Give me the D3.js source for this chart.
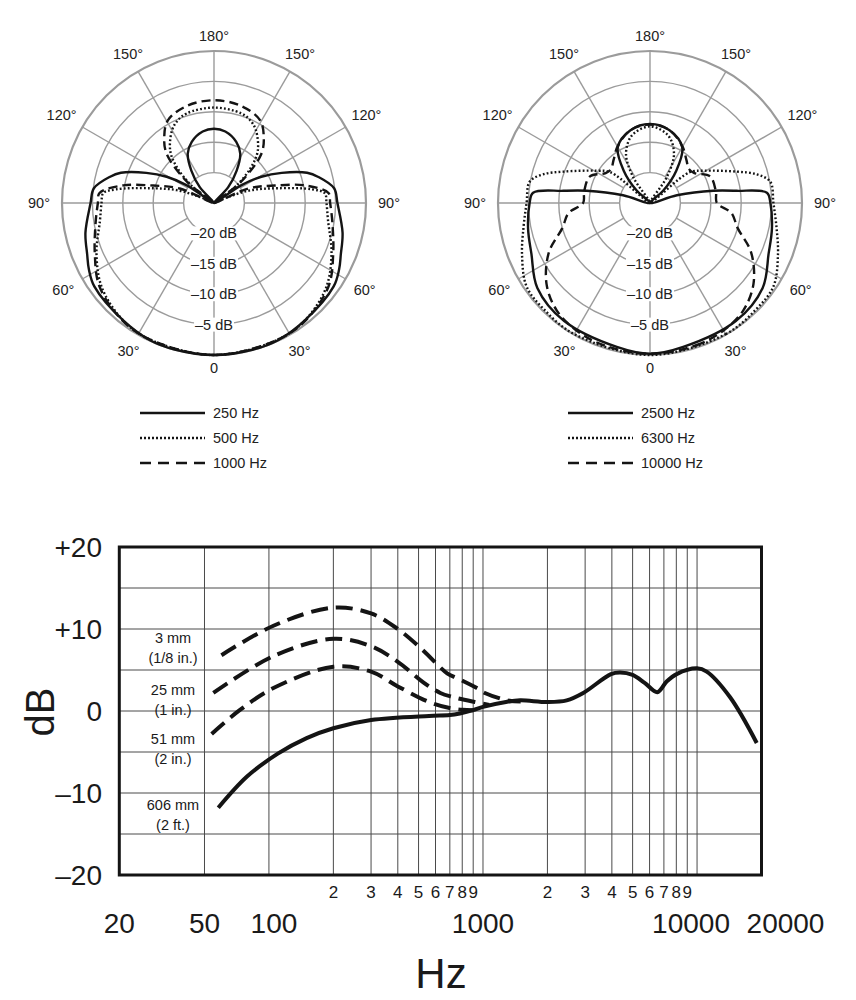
<!DOCTYPE html>
<html><head><meta charset="utf-8">
<script src="https://cdn.jsdelivr.net/npm/d3@7/dist/d3.min.js"></script>
<style>
body{margin:0;background:#fff}
text{font-family:"Liberation Sans",Arial,Helvetica,sans-serif}
</style>
</head><body>
<svg id="c" width="856" height="1000"></svg>
<script>
// ---------------- DATA ----------------
// Polar grid
const ringLevels = [-20, -15, -10, -5, 0];
const ringLabelLevels = [-20, -15, -10, -5];
const ringLabelText = ["–20 dB", "–15 dB", "–10 dB", "–5 dB"];
const spokeAngles = [0, 30, 60, 90, 120, 150, 180, 210, 240, 270, 300, 330];
const angleLabelDeg = [0, 30, 60, 90, 120, 150, 180];
const angleLabelText = ["0", "30°", "60°", "90°", "120°", "150°", "180°"];

// Left polar (angle from front, degrees; level in dB), symmetric
const ang250 = [0, 15, 25, 38, 55, 62, 68, 77, 90, 97, 104, 108, 114, 119, 123, 129, 138, 145, 152, 160, 171, 180];
const db250  = [0, -0.05, -0.1, -0.6, -1.0, -1.7, -2.5, -3.3, -4.7, -5.1, -7.3, -8.9, -12.8, -16.1, -19.6, -25, -21.5, -18.5, -15.8, -14.3, -13.1, -12.8];
const ang500 = [0, 25, 38, 53, 67, 81, 90, 95, 98, 103, 109, 113, 118, 127, 134, 140, 150, 156, 163, 180];
const db500  = [0, -0.2, -0.6, -1.9, -4.0, -6.0, -6.5, -6.7, -8.8, -14.2, -18.5, -22.4, -25, -20.7, -16.5, -13.8, -11.2, -10.2, -9.6, -9.3];
const ang1000 = [0, 25, 38, 54, 67, 81, 90, 95, 101, 106, 113, 119, 128, 136, 143, 151, 165, 180];
const db1000  = [0, -0.2, -0.5, -1.7, -3.7, -5.3, -5.9, -6.1, -9.8, -14.6, -18.9, -25, -19.5, -13.8, -11.4, -9.4, -8.4, -8.1];

// Right polar
const ang2500 = [0, 13, 36, 53, 67, 78, 90, 95, 98, 101, 106, 112, 133, 141, 150, 165, 180];
const db2500  = [-0.2, -0.7, -1.0, -1.8, -3.8, -4.5, -5.2, -5.7, -10.6, -14.4, -20.4, -25, -22, -18.1, -14.4, -12.6, -12.0];
const ang6300 = [0, 30, 45, 56, 68, 79, 90, 100, 105, 110, 121, 128, 133, 147, 154, 165, 180];
const db6300  = [0, -0.1, -0.3, -0.5, -2.3, -3.8, -4.7, -4.9, -6.8, -9.9, -14.7, -16.8, -25, -19.9, -16, -13.5, -12.4];
const ang10000 = [0, 18, 30, 41, 52, 64, 74, 83, 90, 100, 114, 124, 131, 140, 150, 165, 180];
const db10000  = [-0.2, -0.4, -0.8, -1.6, -3.4, -6.5, -10, -11.5, -14, -14, -14.2, -16.2, -16.5, -15.7, -14.3, -12.6, -12.1];

const leftLegend = ["250 Hz", "500 Hz", "1000 Hz"];
const rightLegend = ["2500 Hz", "6300 Hz", "10000 Hz"];

// Frequency response (proximity effect)
const yTicks = [20, 10, 0, -10, -20];
const yTickText = ["+20", "+10", "0", "–10", "–20"];
const yGrid = [-15, -10, -5, 0, 5, 10, 15];
const xGrid = [50, 100, 200, 300, 400, 500, 600, 700, 800, 900, 1000, 2000, 3000, 4000, 5000, 6000, 7000, 8000, 9000, 10000];
const xMajor = [20, 50, 100, 1000, 10000, 20000];
const xMajorText = ["20", "50", "100", "1000", "10000", "20000"];
const xMinor = [200, 300, 400, 500, 600, 700, 800, 900, 2000, 3000, 4000, 5000, 6000, 7000, 8000, 9000];
const xMinorText = ["2", "3", "4", "5", "6", "7", "8", "9", "2", "3", "4", "5", "6", "7", "8", "9"];

const f606 = [58, 79, 110, 150, 200, 300, 560, 700, 780, 900, 1000, 1280, 1490, 2000, 2460, 2940, 3960, 4370, 5000, 5710, 6520, 7210, 8030, 10000, 11090, 14240, 19000];
const d606 = [-11.8, -8.0, -5.2, -3.3, -2.1, -1.1, -0.6, -0.5, -0.3, 0.1, 0.5, 1.1, 1.3, 1.1, 1.3, 2.2, 4.5, 4.7, 4.4, 3.4, 2.3, 3.6, 4.5, 5.2, 4.8, 1.7, -3.9];
const f51 = [54, 73, 105, 200, 300, 400, 560, 690, 800, 900];
const d51 = [-2.8, 0.1, 2.8, 5.4, 4.8, 3.0, 1.1, 0.4, 0.15, 0.1];
const f25 = [55, 105, 200, 300, 400, 526, 632, 724, 914, 1070];
const d25 = [2.2, 6.7, 8.8, 7.9, 6.0, 3.5, 2.2, 1.7, 1.1, 0.75];
const f3 = [60, 105, 200, 300, 400, 520, 680, 758, 936, 1020, 1300, 1500];
const d3v = [6.8, 10.4, 12.6, 11.9, 10.0, 7.5, 4.6, 4.0, 2.8, 2.2, 1.3, 1.15];
const curveLabels = [["3 mm", "(1/8 in.)"], ["25 mm", "(1 in.)"], ["51 mm", "(2 in.)"], ["606 mm", "(2 ft.)"]];
const curveLabelDb = [7.7, 1.4, -4.6, -12.7];

// ---------------- DRAW ----------------
const svg = d3.select("#c");
const INK = "#141414";
const GRID = "#9b9b9b";
const styles = {
  solid: null,
  dotted: "1.8,2.2",
  dashed: "9,5"
};
const labelRadius = {0: 165, 30: 171, 60: 174, 90: 175, 120: 176, 150: 172, 180: 167};

function drawPolar(cx, cy, series) {
  const R = 152;
  const r = d3.scaleLinear().domain([-25, 0]).range([0, R]).clamp(true);
  const g = svg.append("g").attr("transform", `translate(${cx},${cy})`);
  const rad = d => d * Math.PI / 180;

  g.selectAll("circle.ring").data(ringLevels).join("circle")
    .attr("r", d => r(d)).attr("fill", "none").attr("stroke", GRID)
    .attr("stroke-width", d => d === 0 ? 2.2 : 1.4);

  g.selectAll("line.spoke").data(spokeAngles).join("line")
    .attr("x1", d => r(-20) * Math.sin(rad(d))).attr("y1", d => r(-20) * Math.cos(rad(d)))
    .attr("x2", d => R * Math.sin(rad(d))).attr("y2", d => R * Math.cos(rad(d)))
    .attr("stroke", GRID).attr("stroke-width", 1.4);

  // dB labels on white patches
  ringLabelLevels.forEach((lv, i) => {
    const t = g.append("text").attr("x", 0).attr("y", r(lv)).attr("text-anchor", "middle")
      .attr("dominant-baseline", "central").attr("font-size", 14.5).attr("fill", "#222")
      .text(ringLabelText[i]);
    const bb = t.node().getBBox();
    g.insert("rect", "text").attr("x", bb.x - 1).attr("y", bb.y + 1).attr("width", bb.width + 2)
      .attr("height", bb.height - 2).attr("fill", "#fff");
  });

  // angle labels
  angleLabelDeg.forEach((a, i) => {
    const sides = (a === 0 || a === 180) ? [1] : [-1, 1];
    const lr = labelRadius[a];
    sides.forEach(s => {
      g.append("text").attr("x", s * lr * Math.sin(rad(a))).attr("y", lr * Math.cos(rad(a)))
        .attr("text-anchor", "middle").attr("dominant-baseline", "central")
        .attr("font-size", 14.5).attr("fill", "#222").text(angleLabelText[i]);
    });
  });

  const line = d3.lineRadial().angle(d => d.a).radius(d => r(d.v))
    .curve(d3.curveCatmullRomClosed.alpha(0.5));
  series.forEach(s => {
    const right = s.ang.map((a, i) => ({a: Math.PI - rad(a), v: s.db[i]}));
    const left = s.ang.slice(1, -1).map((a, i) => ({a: Math.PI + rad(a), v: s.db[i + 1]})).reverse();
    g.append("path").attr("d", line(right.concat(left))).attr("fill", "none")
      .attr("stroke", INK).attr("stroke-width", 2.4)
      .attr("stroke-dasharray", styles[s.style]);
  });
}

drawPolar(214, 203, [
  {ang: ang250, db: db250, style: "solid"},
  {ang: ang500, db: db500, style: "dotted"},
  {ang: ang1000, db: db1000, style: "dashed"}
]);
drawPolar(650, 203, [
  {ang: ang2500, db: db2500, style: "solid"},
  {ang: ang6300, db: db6300, style: "dotted"},
  {ang: ang10000, db: db10000, style: "dashed"}
]);

// legends
function drawLegend(x0, names) {
  const st = ["solid", "dotted", "dashed"];
  const dash = {solid: null, dotted: "2,2", dashed: "11,7"};
  names.forEach((n, i) => {
    const y = 413 + i * 25;
    svg.append("line").attr("x1", x0).attr("x2", x0 + 65).attr("y1", y).attr("y2", y)
      .attr("stroke", INK).attr("stroke-width", 2.6).attr("stroke-dasharray", dash[st[i]]);
    svg.append("text").attr("x", x0 + 73).attr("y", y).attr("dominant-baseline", "central")
      .attr("font-size", 14.5).attr("fill", "#222").text(n);
  });
}
drawLegend(140, leftLegend);
drawLegend(568, rightLegend);

// ---------------- Frequency response ----------------
const x = d3.scaleLog().domain([20, 20000]).range([119.3, 761.5]);
const y = d3.scaleLinear().domain([-20, 20]).range([875, 547]);
const fg = svg.append("g");

fg.selectAll("line.hg").data(yGrid).join("line")
  .attr("x1", x(20)).attr("x2", x(20000)).attr("y1", d => y(d)).attr("y2", d => y(d))
  .attr("stroke", "#4a4a4a").attr("stroke-width", 1);
fg.selectAll("line.vg").data(xGrid).join("line")
  .attr("x1", d => x(d)).attr("x2", d => x(d)).attr("y1", y(20)).attr("y2", y(-20))
  .attr("stroke", "#4a4a4a").attr("stroke-width", 1);
fg.append("rect").attr("x", x(20)).attr("y", y(20)).attr("width", x(20000) - x(20))
  .attr("height", y(-20) - y(20)).attr("fill", "none").attr("stroke", INK).attr("stroke-width", 3);

// y labels
fg.selectAll("text.yt").data(yTicks).join("text")
  .attr("x", 102).attr("y", d => y(d)).attr("text-anchor", "end").attr("dominant-baseline", "central")
  .attr("font-size", 28).attr("fill", "#1a1a1a").text((d, i) => yTickText[i]);
// x major
const majorShift = {20000: 24, 10000: -6, 100: 5};
fg.selectAll("text.xm").data(xMajor).join("text")
  .attr("x", d => x(d) + (majorShift[d] || 0)).attr("y", 933).attr("text-anchor", "middle")
  .attr("font-size", 28).attr("fill", "#1a1a1a").text((d, i) => xMajorText[i]);
// x minor
fg.selectAll("text.xn").data(xMinor).join("text")
  .attr("x", d => x(d)).attr("y", 898).attr("text-anchor", "middle")
  .attr("font-size", 17).attr("fill", "#1a1a1a").text((d, i) => xMinorText[i]);

fg.append("text").attr("x", 441).attr("y", 988).attr("text-anchor", "middle")
  .attr("font-size", 42).attr("fill", "#1a1a1a").text("Hz");
fg.append("text").attr("transform", "translate(54,712) rotate(-90)").attr("text-anchor", "middle")
  .attr("font-size", 40).attr("fill", "#1a1a1a").text("dB");

const fline = d3.line().x(d => x(d[0])).y(d => y(d[1])).curve(d3.curveCatmullRom.alpha(0.5));
const zip = (a, b) => a.map((v, i) => [v, b[i]]);
[[f3, d3v], [f25, d25], [f51, d51]].forEach(([f, d]) => {
  fg.append("path").attr("d", fline(zip(f, d))).attr("fill", "none").attr("stroke", INK)
    .attr("stroke-width", 4).attr("stroke-dasharray", "17,8");
});
fg.append("path").attr("d", fline(zip(f606, d606))).attr("fill", "none").attr("stroke", INK)
  .attr("stroke-width", 4).attr("stroke-linejoin", "round");

curveLabels.forEach((pair, i) => {
  const t = fg.append("text").attr("x", 173).attr("y", y(curveLabelDb[i])).attr("text-anchor", "middle")
    .attr("font-size", 14.5).attr("fill", "#1a1a1a");
  t.append("tspan").attr("x", 173).attr("dy", -10).attr("dominant-baseline", "central").text(pair[0]);
  t.append("tspan").attr("x", 173).attr("dy", 20).attr("dominant-baseline", "central").text(pair[1]);
});
</script>
</body></html>
